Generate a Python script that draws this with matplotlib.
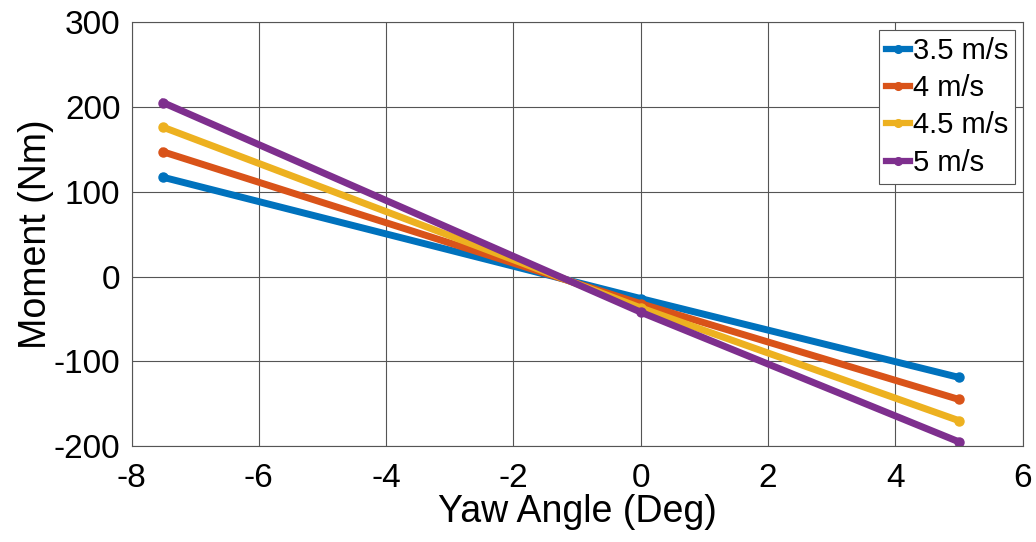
import matplotlib
matplotlib.use("Agg")
import matplotlib.pyplot as plt

# ---------- Data ----------
yaw = [-7.5, 0, 5]
speeds = ["3.5 m/s", "4 m/s", "4.5 m/s", "5 m/s"]
moment_35 = [117, -26, -119]
moment_40 = [147, -32, -145]
moment_45 = [176, -37, -170]
moment_50 = [205, -42, -195]
series = [moment_35, moment_40, moment_45, moment_50]
colors = ["#0072BD", "#D95319", "#EDB120", "#7E2F8E"]

plt.rcParams["font.family"] = ["Liberation Sans", "DejaVu Sans"]
plt.rcParams["axes.unicode_minus"] = False

fig = plt.figure(figsize=(10.36, 5.42), dpi=100)
ax = fig.add_axes([0.127, 0.177, 0.86, 0.782])

for vals, lab, c in zip(series, speeds, colors):
    ax.plot(yaw, vals, color=c, lw=5, marker=".", ms=13, label=lab)

ax.set_xlim(-8, 6)
ax.set_ylim(-200, 300)
ax.set_xticks(range(-8, 7, 2))
ax.set_yticks(range(-200, 301, 100))
ax.tick_params(labelsize=24, length=0)
ax.tick_params(axis="x", pad=12)
ax.tick_params(axis="y", pad=8)
ax.grid(True, color="#555555", lw=0.8)
ax.set_axisbelow(True)
for s in ax.spines.values():
    s.set_color("#555555")
    s.set_linewidth(0.8)

ax.set_xlabel("Yaw Angle (Deg)", fontsize=27, labelpad=0)
ax.set_ylabel("Moment (Nm)", fontsize=27, labelpad=0)

leg = ax.legend(loc="upper right", fontsize=21, handlelength=0.8, handletextpad=0.1,
                borderpad=0.25, labelspacing=0.32, fancybox=False, framealpha=1,
                borderaxespad=0.25, markerscale=0.85)
leg.get_frame().set_edgecolor("#555555")
leg.get_frame().set_linewidth(0.8)
for h in leg.legend_handles:
    h.set_linewidth(4.5)

fig.savefig("out.png", dpi=100)
